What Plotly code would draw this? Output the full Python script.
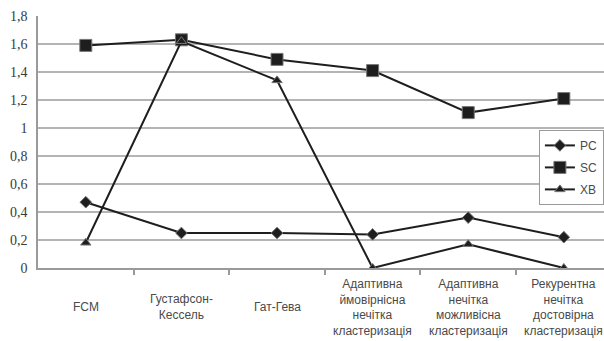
import plotly.graph_objects as go

categories = [
    "FCM",
    "Густафсон-<br>Кессель",
    "Гат-Гева",
    "Адаптивна<br>ймовірнісна<br>нечітка<br>кластеризація",
    "Адаптивна<br>нечітка<br>можливісна<br>кластеризація",
    "Рекурентна<br>нечітка<br>достовірна<br>кластеризація",
]
pc_values = [0.47, 0.25, 0.25, 0.24, 0.36, 0.22]
sc_values = [1.59, 1.63, 1.49, 1.41, 1.11, 1.21]
xb_values = [0.18, 1.62, 1.34, 0.0, 0.17, 0.0]

y_ticks = [0, 0.2, 0.4, 0.6, 0.8, 1.0, 1.2, 1.4, 1.6, 1.8]
y_tick_text = ["0", "0,2", "0,4", "0,6", "0,8", "1", "1,2", "1,4", "1,6", "1,8"]

x_idx = list(range(len(categories)))

line_color = "#1e1e1e"
series = [
    ("PC", pc_values, "diamond", 9),
    ("SC", sc_values, "square", 12),
    ("XB", xb_values, "triangle-up", 9),
]

fig = go.Figure()
for name, vals, symbol, size in series:
    fig.add_trace(go.Scatter(
        x=x_idx, y=vals, name=name, mode="lines+markers",
        legendgroup=name,
        line=dict(color=line_color, width=2),
        marker=dict(symbol=symbol, size=size, color=line_color,
                    line=dict(color="#777777", width=1)),
    ))

# category labels centred vertically beneath the axis
for i, label in enumerate(categories):
    fig.add_annotation(
        x=i, y=-0.155, xref="x", yref="paper",
        text=label, showarrow=False,
        xanchor="center", yanchor="middle",
        font=dict(family="Liberation Sans, Arial, sans-serif", size=12, color="#4a4a4a"),
        align="center",
    )

fig.update_layout(
    width=604, height=341,
    margin=dict(l=38, r=0, t=16, b=73),
    paper_bgcolor="white",
    plot_bgcolor="white",
    showlegend=True,
    legend=dict(
        x=0.885, y=0.548, xanchor="left", yanchor="top",
        bgcolor="white", bordercolor="#9a9a9a", borderwidth=1,
        font=dict(family="Liberation Sans, Arial, sans-serif", size=12, color="#4a4a4a"),
        itemwidth=30, tracegroupgap=3,
    ),
)
fig.update_xaxes(
    range=[-0.5, 5.42],
    tickvals=[i + 0.5 for i in range(len(categories) - 1)],
    showticklabels=False,
    ticks="outside", ticklen=5, tickcolor="#9a9a9a", tickwidth=1.5,
    showgrid=False, zeroline=False,
    showline=True, linecolor="#9a9a9a", linewidth=1.5,
)
fig.update_yaxes(
    range=[0, 1.8],
    tickvals=y_ticks, ticktext=y_tick_text,
    tickfont=dict(family="Liberation Serif, Times New Roman, serif", size=14, color="#3a3a3a"),
    showgrid=True, gridcolor="#b4b4b4", gridwidth=1.5,
    zeroline=False,
    showline=True, linecolor="#9a9a9a", linewidth=1.5,
    ticks="", ticklabelstandoff=6,
)

fig.write_html("out.html")
